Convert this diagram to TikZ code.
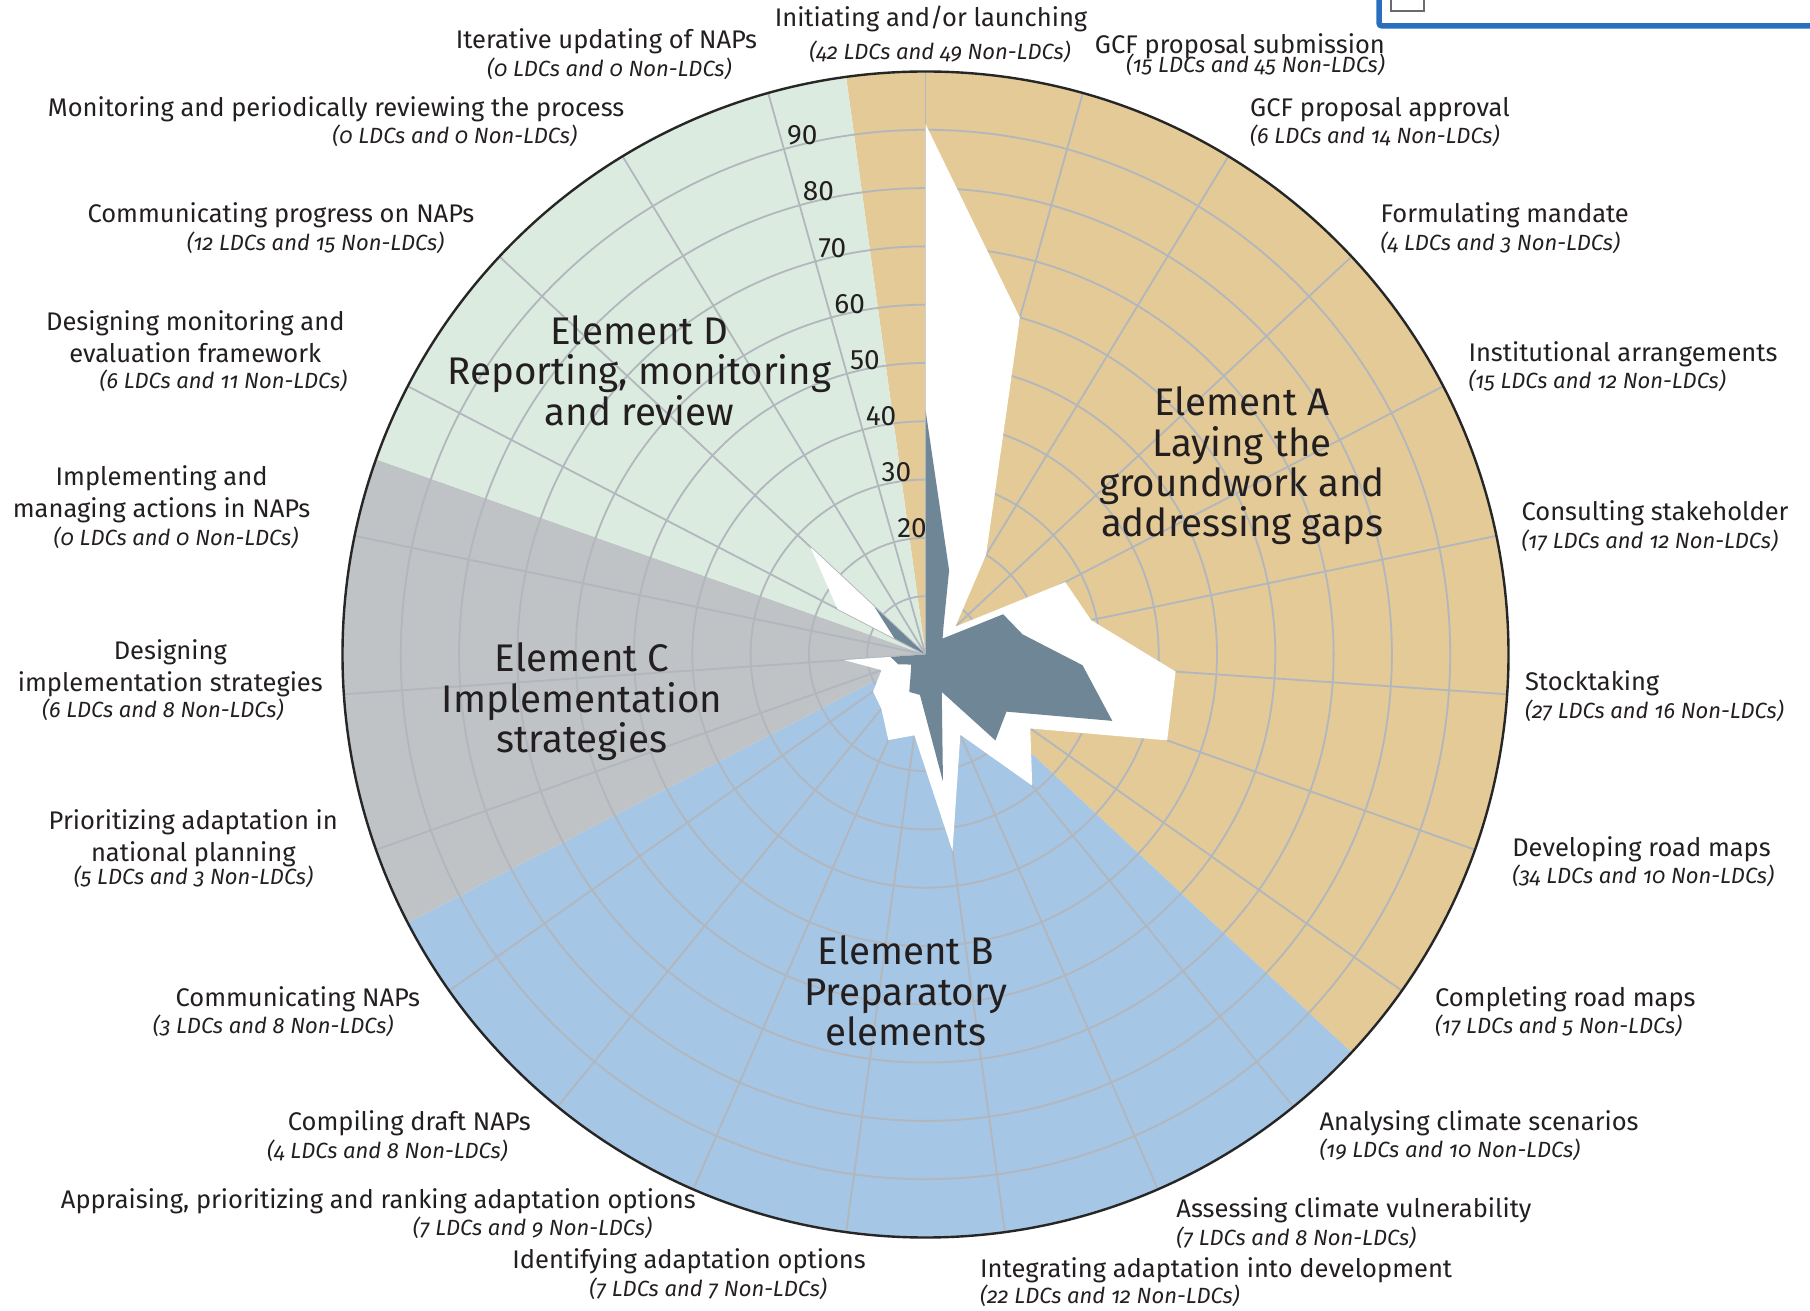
\documentclass[tikz,border=0pt]{standalone}
\usepackage{fontspec}
\setmainfont{Fira Sans}[ItalicFeatures={Numbers=OldStyle}]
\definecolor{secA}{HTML}{E3CA96}
\definecolor{secB}{HTML}{A5C6E4}
\definecolor{secC}{HTML}{BFC3C6}
\definecolor{secD}{HTML}{DCEBE0}
\definecolor{ldc}{HTML}{6F8696}
\definecolor{gridc}{HTML}{B2B6BD}
\definecolor{txt}{HTML}{231F20}
\definecolor{uiblue}{HTML}{2A6FBD}
\definecolor{uigrey}{HTML}{6B6B6B}
\tikzset{
  gridline/.style={draw=gridc, line width=1.8pt},
  ttl/.style={font=\fontsize{25.5}{30}\selectfont, text=txt, inner sep=0pt, text height=18pt, text depth=5.5pt},
  ttlm/.style={font=\fontsize{25.5}{32}\selectfont, text=txt, inner sep=0pt, align=center},
  cnt/.style={font=\fontsize{22}{26}\selectfont\itshape, text=txt, inner sep=0pt, text height=16pt, text depth=5pt},
  elem/.style={font=\fontsize{38.5}{40.4}\selectfont, text=txt, inner sep=0pt, align=center},
  scalelab/.style={font=\fontsize{28}{30}\selectfont, text=txt, inner sep=0pt, anchor=south west, xshift=3pt, yshift=4pt}
}
\begin{document}
\begin{tikzpicture}[x=1pt,y=1pt]
\useasboundingbox (0,0) rectangle (1810,1310);
\fill[white] (0,0) rectangle (1810,1310);
\def\st{15.6521739}
\begin{scope}[shift={(925.5,655.5)}]
  % sectors
  \fill[secA] (0,0) -- (97.826:583) arc[start angle=97.826, end angle=-43.043, radius=583] -- cycle;
  \fill[secB] (0,0) -- (-43.043:583) arc[start angle=-43.043, end angle=-152.609, radius=583] -- cycle;
  \fill[secC] (0,0) -- (-152.609:583) arc[start angle=-152.609, end angle=-199.565, radius=583] -- cycle;
  \fill[secD] (0,0) -- (-199.565:583) arc[start angle=-199.565, end angle=-262.174, radius=583] -- cycle;
  % grid
  \foreach \v in {10,20,...,90} \draw[gridline] (0,0) circle[radius=\v*5.83];
  \foreach \i in {0,...,22} \draw[gridline] (0,0) -- ({90-\i*\st}:583);
  % scale labels
  \foreach \v in {20,30,...,90} \node[scalelab] (s\v) at ({90+\st}:{\v*5.83}) {\v};
\end{scope}
% element labels
\node[elem] (elA) at (1242,844) {Element A\\Laying the\\groundwork and\\addressing gaps};
\node[elem] (elB) at (906,319) {Element B\\Preparatory\\elements};
\node[elem] (elC) at (582,608) {Element C\\Implementation\\strategies};
\node[elem] (elD) at (639.5,939.5) {Element D\\Reporting, monitoring\\and review};
\begin{scope}[shift={(925.5,655.5)}]
  % totals (LDCs + Non-LDCs)
  \fill[white] (90:{91*5.83}) \foreach \v [count=\i from 1] in {60,20,7,27,29,43,44,22,29,15,34,14,16,12,11,8,14,0,17,27,0,0} { -- ({90-\i*\st}:{\v*5.83}) } -- cycle;
  % LDCs
  \fill[ldc] (90:{42*5.83}) \foreach \v [count=\i from 1] in {15,6,4,15,17,27,34,17,19,7,22,7,7,4,3,5,6,0,6,12,0,0} { -- ({90-\i*\st}:{\v*5.83}) } -- cycle;
  \draw[line width=2.4pt, black!85] (0,0) circle[radius=583];
\end{scope}
% outer labels
\node[ttl] (t1) at (931,1290) {Initiating and/or launching};
\node[cnt] (c1) at (940,1256) {(42 LDCs and 49 Non-LDCs)};
\node[ttl, anchor=east] (t2) at (1385,1263) {GCF proposal submission};
\node[cnt, anchor=east] (c2) at (1385,1243) {(15 LDCs and 45 Non-LDCs)};
\node[ttl, anchor=west] (t3) at (1250,1199.5) {GCF proposal approval};
\node[cnt, anchor=west] (c3) at (1250,1172) {(6 LDCs and 14 Non-LDCs)};
\node[ttl, anchor=west] (t4) at (1380.5,1093.3) {Formulating mandate};
\node[cnt, anchor=west] (c4) at (1380.5,1064.6) {(4 LDCs and 3 Non-LDCs)};
\node[ttl, anchor=west] (t5) at (1468.3,954.8) {Institutional arrangements};
\node[cnt, anchor=west] (c5) at (1468.3,927.3) {(15 LDCs and 12 Non-LDCs)};
\node[ttl, anchor=west] (t6) at (1521.4,795.5) {Consulting stakeholder};
\node[cnt, anchor=west] (c6) at (1521.4,766.8) {(17 LDCs and 12 Non-LDCs)};
\node[ttl, anchor=west] (t7) at (1524.8,625.8) {Stocktaking};
\node[cnt, anchor=west] (c7) at (1524.8,597.2) {(27 LDCs and 16 Non-LDCs)};
\node[ttl, anchor=west] (t8) at (1512.1,459.6) {Developing road maps};
\node[cnt, anchor=west] (c8) at (1512.1,432.1) {(34 LDCs and 10 Non-LDCs)};
\node[ttl, anchor=west] (t9) at (1434.8,309.5) {Completing road maps};
\node[cnt, anchor=west] (c9) at (1434.8,282) {(17 LDCs and 5 Non-LDCs)};
\node[ttl, anchor=west] (t10) at (1319.4,186) {Analysing climate scenarios};
\node[cnt, anchor=west] (c10) at (1319.4,158.5) {(19 LDCs and 10 Non-LDCs)};
\node[ttl, anchor=west] (t11) at (1176.2,98.3) {Assessing climate vulnerability};
\node[cnt, anchor=west] (c11) at (1176.2,69.6) {(7 LDCs and 8 Non-LDCs)};
\node[ttl, anchor=west] (t12) at (980,38.3) {Integrating adaptation into development};
\node[cnt, anchor=west] (c12) at (980,12.5) {(22 LDCs and 12 Non-LDCs)};
\node[ttl] (t13) at (689.1,47.5) {Identifying adaptation options};
\node[cnt] (c13) at (708.2,19) {(7 LDCs and 7 Non-LDCs)};
\node[ttl, anchor=east] (t14) at (696,107.5) {Appraising, prioritizing and ranking adaptation options};
\node[cnt, anchor=east] (c14) at (652.2,80) {(7 LDCs and 9 Non-LDCs)};
\node[ttl, anchor=east] (t15) at (531,186) {Compiling draft NAPs};
\node[cnt, anchor=east] (c15) at (507.9,157.4) {(4 LDCs and 8 Non-LDCs)};
\node[ttl, anchor=east] (t16) at (420.2,309.5) {Communicating NAPs};
\node[cnt, anchor=east] (c16) at (393.6,282) {(3 LDCs and 8 Non-LDCs)};
\node[ttlm] (t17) at (193.3,472.2) {Prioritizing adaptation in\\national planning};
\node[cnt] (c17) at (193.5,431) {(5 LDCs and 3 Non-LDCs)};
\node[ttlm] (t18) at (170.3,642) {Designing\\implementation strategies};
\node[cnt] (c18) at (162.8,598.3) {(6 LDCs and 8 Non-LDCs)};
\node[ttlm] (t19) at (161.6,816) {Implementing and\\managing actions in NAPs};
\node[cnt] (c19) at (176,770.2) {(0 LDCs and 0 Non-LDCs)};
\node[ttlm] (t20) at (195.3,973.2) {Designing monitoring and\\evaluation framework};
\node[cnt, anchor=east] (c20) at (347.4,927.3) {(6 LDCs and 11 Non-LDCs)};
\node[ttl, anchor=east] (t21) at (474.4,1093.3) {Communicating progress on NAPs};
\node[cnt, anchor=east] (c21) at (444.4,1064.6) {(12 LDCs and 15 Non-LDCs)};
\node[ttl, anchor=east] (t22) at (624.5,1199.5) {Monitoring and periodically reviewing the process};
\node[cnt, anchor=east] (c22) at (577.2,1172) {(0 LDCs and 0 Non-LDCs)};
\node[ttl, anchor=east] (t23) at (757.2,1267.6) {Iterative updating of NAPs};
\node[cnt, anchor=east] (c23) at (731.8,1239) {(0 LDCs and 0 Non-LDCs)};
% screenshot frame at top right
\draw[uiblue, line width=5.5pt, rounded corners=3pt] (1379,1312) -- (1379,1284) -- (1812,1284);
\draw[uigrey, line width=2.5pt] (1391,1312) -- (1391,1299) -- (1424,1299) -- (1424,1312);
\end{tikzpicture}
\end{document}
